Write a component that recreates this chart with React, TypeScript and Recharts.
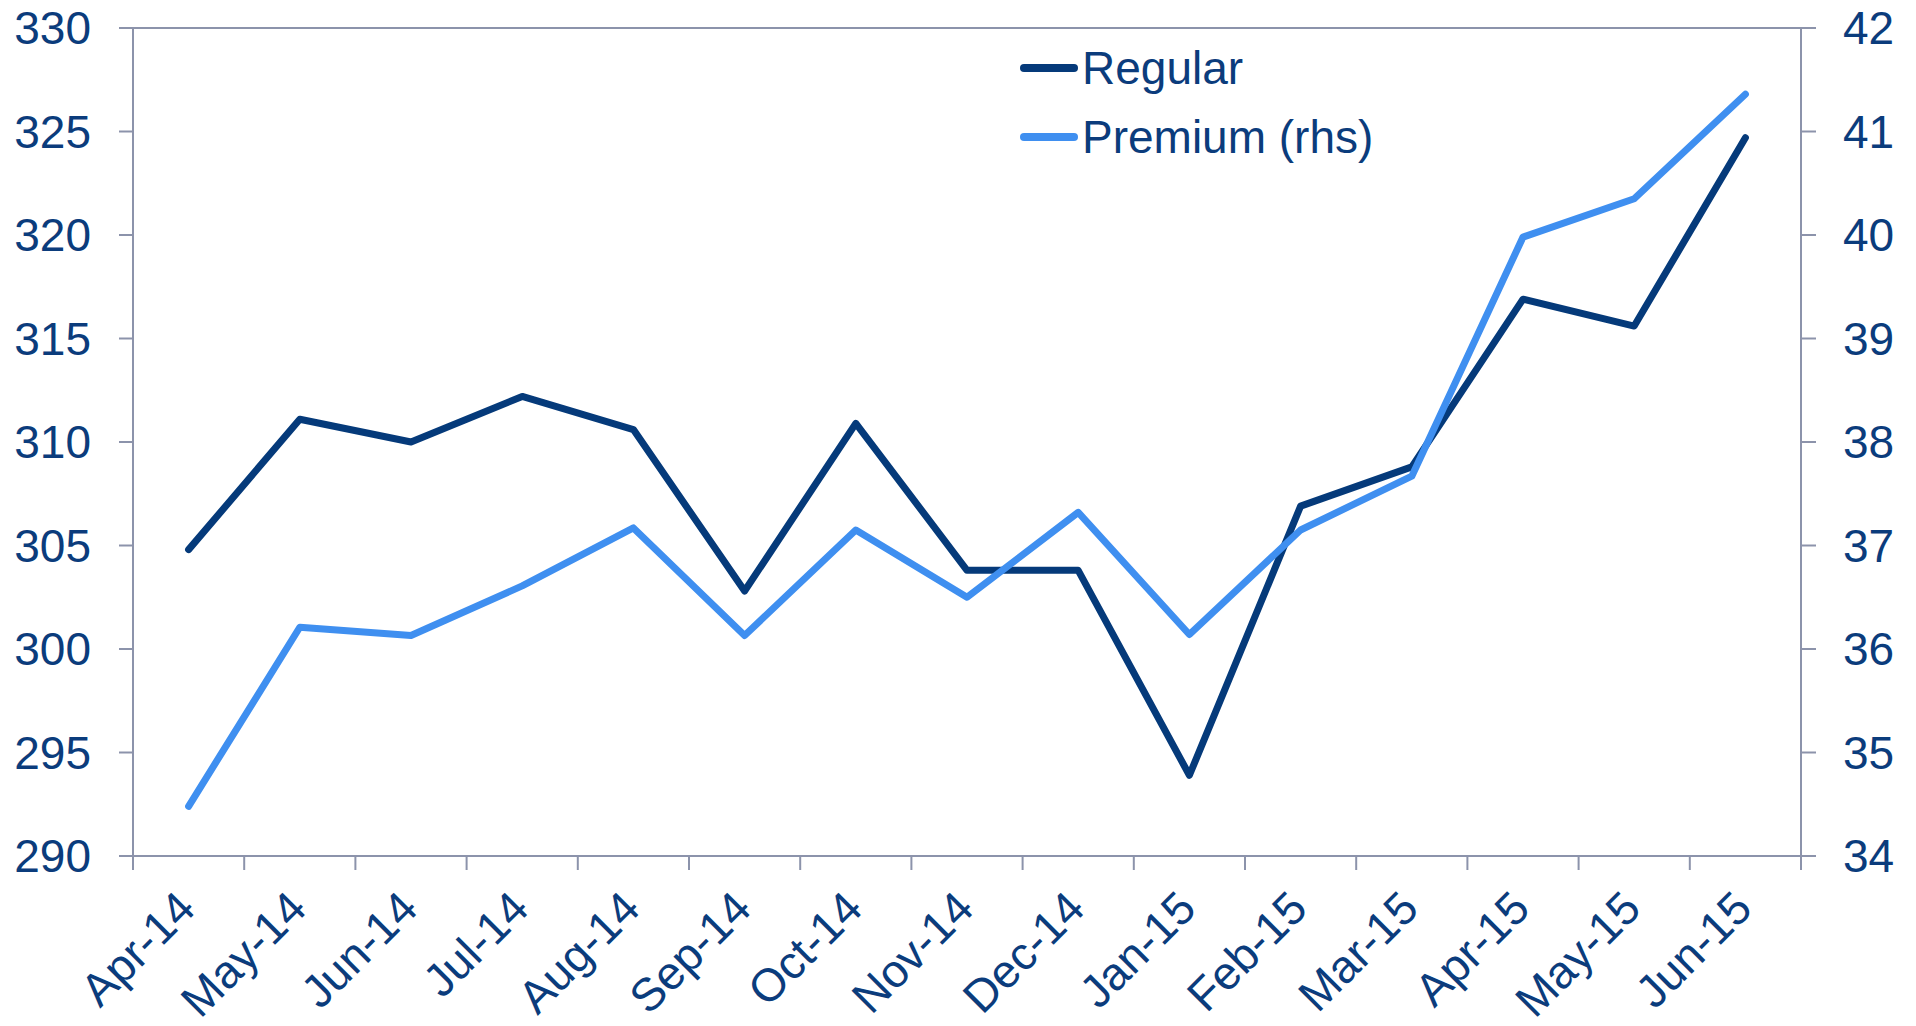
import React from 'react';
import { LineChart, Line, XAxis, YAxis, CartesianGrid, Legend } from 'recharts';

const months = [
  'Apr-14', 'May-14', 'Jun-14', 'Jul-14', 'Aug-14', 'Sep-14', 'Oct-14', 'Nov-14',
  'Dec-14', 'Jan-15', 'Feb-15', 'Mar-15', 'Apr-15', 'May-15', 'Jun-15',
];
const regular = [
  304.8, 311.1, 310.0, 312.2, 310.6, 302.8, 310.9, 303.8,
  303.8, 293.9, 306.9, 308.8, 316.9, 315.6, 324.7,
];
const premium = [
  34.48, 36.21, 36.13, 36.61, 37.17, 36.13, 37.15, 36.5,
  37.32, 36.14, 37.15, 37.67, 39.98, 40.35, 41.36,
];
const leftTicks = [290, 295, 300, 305, 310, 315, 320, 325, 330];
const rightTicks = [34, 35, 36, 37, 38, 39, 40, 41, 42];

const data = months.map((m, i) => ({ month: m, regular: regular[i], premium: premium[i] }));

const W = 1916;
const H = 1026;
const LEFT = 133;
const RIGHT = 115;
const TOP = 28;
const BOTTOM = 170;
const band = (W - LEFT - RIGHT) / months.length;

const textColor = '#0b3c7c';
const gridColor = '#8c93ab';
const regularColor = '#053a7a';
const premiumColor = '#3f8ff0';
const font = '"Liberation Sans", Arial, sans-serif';

// x tick: rotated label plus tick marks on the category boundaries
function MonthTick(props: any) {
  const { x, y, payload, index } = props;
  const last = index === months.length - 1;
  return (
    <g>
      <line x1={x - band / 2} x2={x - band / 2} y1={y - 8} y2={y + 6} stroke={gridColor} strokeWidth={2} />
      {last && (
        <line x1={x + band / 2} x2={x + band / 2} y1={y - 8} y2={y + 6} stroke={gridColor} strokeWidth={2} />
      )}
      <text
        x={x + 9}
        y={y + 47}
        transform={`rotate(-45, ${x + 9}, ${y + 47})`}
        textAnchor="end"
        fill={textColor}
        fontSize={46}
        fontFamily={font}
      >
        {payload.value}
      </text>
    </g>
  );
}

function LegendBox() {
  const rows = [
    { label: 'Regular', color: regularColor },
    { label: 'Premium (rhs)', color: premiumColor },
  ];
  return (
    <div style={{ fontFamily: font, fontSize: 46, color: textColor }}>
      {rows.map((r) => (
        <div key={r.label} style={{ display: 'flex', alignItems: 'center', height: 69 }}>
          <span
            style={{
              display: 'inline-block',
              width: 58,
              height: 8,
              borderRadius: 4,
              background: r.color,
              marginRight: 4,
            }}
          />
          <span>{r.label}</span>
        </div>
      ))}
    </div>
  );
}

export default function App() {
  return (
    <div style={{ position: 'fixed', left: 0, top: 0, width: W, height: H, background: '#fff' }}>
      <LineChart width={W} height={H} data={data} margin={{ top: TOP, right: 0, bottom: 0, left: 0 }}>
        <CartesianGrid vertical={false} stroke={gridColor} strokeWidth={2} />
        <XAxis
          dataKey="month"
          height={BOTTOM}
          interval={0}
          padding={{ left: band / 2, right: band / 2 }}
          axisLine={{ stroke: gridColor, strokeWidth: 2 }}
          tickLine={false}
          tick={<MonthTick />}
        />
        <YAxis
          yAxisId="left"
          width={LEFT}
          domain={[290, 330]}
          ticks={leftTicks}
          interval={0}
          axisLine={{ stroke: gridColor, strokeWidth: 2 }}
          tickLine={{ stroke: gridColor, strokeWidth: 2 }}
          tickSize={14}
          tickMargin={28}
          tick={{ fill: textColor, fontSize: 46, fontFamily: font }}
        />
        <YAxis
          yAxisId="right"
          orientation="right"
          width={RIGHT}
          domain={[34, 42]}
          ticks={rightTicks}
          interval={0}
          axisLine={{ stroke: gridColor, strokeWidth: 2 }}
          tickLine={{ stroke: gridColor, strokeWidth: 2 }}
          tickSize={15}
          tickMargin={27}
          tick={{ fill: textColor, fontSize: 46, fontFamily: font }}
        />
        <Legend
          content={<LegendBox />}
          layout="horizontal"
          verticalAlign="middle"
          wrapperStyle={{ position: 'absolute', top: 33, left: 1020, width: 400 }}
        />
        <Line
          yAxisId="left"
          type="linear"
          dataKey="regular"
          name="Regular"
          stroke={regularColor}
          strokeWidth={7}
          strokeLinecap="round"
          strokeLinejoin="round"
          dot={false}
          isAnimationActive={false}
        />
        <Line
          yAxisId="right"
          type="linear"
          dataKey="premium"
          name="Premium (rhs)"
          stroke={premiumColor}
          strokeWidth={7}
          strokeLinecap="round"
          strokeLinejoin="round"
          dot={false}
          isAnimationActive={false}
        />
      </LineChart>
    </div>
  );
}
